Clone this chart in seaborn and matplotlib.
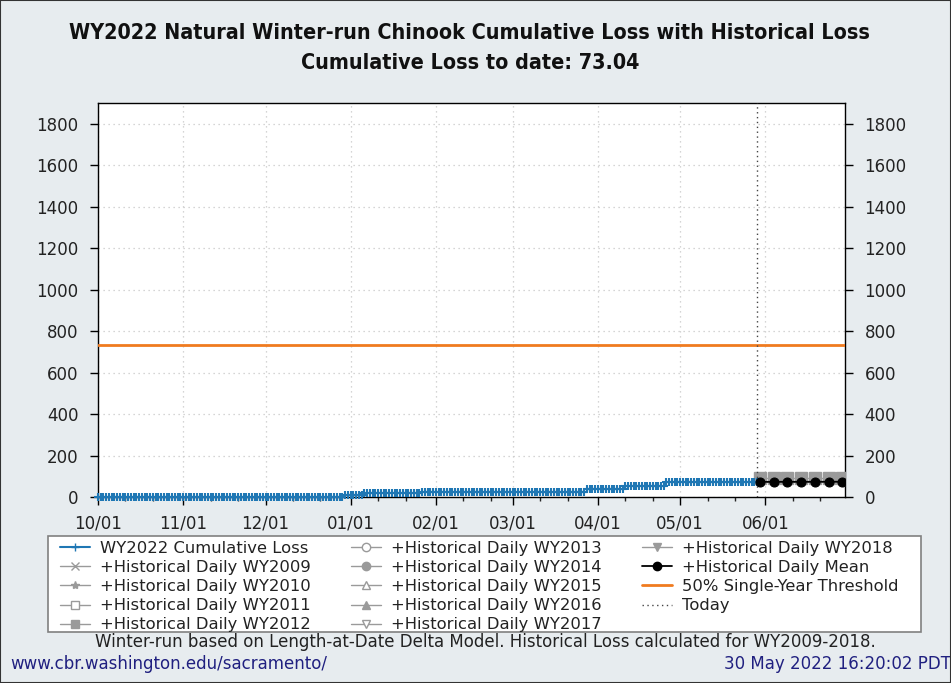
import matplotlib
matplotlib.use("Agg")
import matplotlib.pyplot as plt
import matplotlib.dates as mdates
import seaborn as sns
import pandas as pd
from matplotlib.patches import Rectangle

# ---------------- data ----------------
wy2022_change_dates = ["2021-10-01", "2021-11-24", "2021-12-30", "2022-01-06", "2022-01-16",
                       "2022-01-27", "2022-03-16", "2022-03-28", "2022-04-11", "2022-04-26",
                       "2022-05-09"]
wy2022_change_values = [0.3, 1.0, 10.0, 17.0, 20.0, 24.0, 26.0, 38.0, 54.0, 71.0, 73.04]
wy2022_last_date = "2022-05-29"

proj_dates = ["2022-05-30", "2022-06-04", "2022-06-09", "2022-06-14", "2022-06-19",
              "2022-06-24", "2022-06-29"]
hist_mean = [73.04, 73.1, 73.2, 73.3, 73.4, 73.5, 73.6]
hist_2012 = [90.0, 90.0, 90.0, 90.0, 90.0, 90.0, 90.0]
hist_other = [73.04, 73.2, 73.3, 73.4, 73.5, 73.6, 73.7]

hist_years = ["2009", "2010", "2011", "2012", "2013", "2014", "2015", "2016", "2017", "2018"]
hist_markers = ["x", "*", "s", "s", "o", "o", "^", "^", "v", "v"]
hist_filled = [True, True, False, True, False, True, False, True, False, True]

threshold = 733
today = "2022-05-29"
yticks = [0, 200, 400, 600, 800, 1000, 1200, 1400, 1600, 1800]
xtick_dates = ["2021-10-01", "2021-11-01", "2021-12-01", "2022-01-01", "2022-02-01",
               "2022-03-01", "2022-04-01", "2022-05-01", "2022-06-01"]

# --------------- build frames ---------------
days = pd.date_range("2021-10-01", wy2022_last_date, freq="D")
steps = pd.Series(wy2022_change_values, index=pd.to_datetime(wy2022_change_dates))
cum = steps.reindex(days).ffill()
df22 = pd.DataFrame({"date": days, "loss": cum.values})
pdates = pd.to_datetime(proj_dates)

# --------------- figure ---------------
sns.set_style("white")
plt.rcParams["font.family"] = ["DejaVu Sans"]
bg = "#e7ecef"
fig = plt.figure(figsize=(9.51, 6.83), dpi=100, facecolor=bg)
ax = fig.add_axes([98/951, 1-497/683, (845-98)/951, (497-103)/683])
ax.set_facecolor("white")

gray = "#9a9a9a"
blue = "#1f77b4"
sns.lineplot(data=df22, x="date", y="loss", ax=ax, color=blue, lw=1.5,
             drawstyle="steps-post", marker="+", markersize=5.5, markeredgewidth=1.5,
             markeredgecolor=blue, zorder=5, label="WY2022 Cumulative Loss", clip_on=False)

for yr, mk, filled in zip(hist_years, hist_markers, hist_filled):
    vals = hist_2012 if yr == "2012" else hist_other
    sns.lineplot(x=pdates, y=vals, ax=ax, color=gray, lw=1.0, marker=mk,
                 markersize=9 if yr == "2012" else 5, markeredgewidth=1.0,
                 markerfacecolor=gray if filled else "white",
                 markeredgecolor=gray, zorder=3,
                 label=f"+Historical Daily WY{yr}")

sns.lineplot(x=pdates, y=hist_mean, ax=ax, color="black", lw=1.3, marker="o",
             markersize=6.5, markerfacecolor="black", markeredgecolor="black",
             zorder=6, label="+Historical Daily Mean")

ax.axhline(threshold, color="#f07b1f", lw=2, zorder=4, label="50% Single-Year Threshold")
ax.axvline(pd.Timestamp(today), color="#444444", lw=1, ls=(0, (1, 2.5)), zorder=4, label="Today")

ax.set_xlim(pd.Timestamp("2021-10-01"), pd.Timestamp("2022-06-30"))
ax.set_ylim(0, 1900)
ax.set_yticks(yticks)
ax.set_xticks(pd.to_datetime(xtick_dates))
ax.xaxis.set_major_formatter(mdates.DateFormatter("%m/%d"))
ax.xaxis.set_minor_locator(mdates.DayLocator(bymonthday=[11, 21]))
ax.set_xlabel("")
ax.set_ylabel("")
ax.grid(True, which="major", color="#c8c8c8", ls=(0, (1, 3)), lw=0.9)
ax.tick_params(axis="both", which="major", direction="out", length=6, width=1,
               labelsize=12, colors="black", labelcolor="#222222")
ax.tick_params(axis="x", which="major", pad=6.5)
ax.tick_params(axis="y", which="major", pad=8)
ax.tick_params(axis="x", which="minor", direction="out", length=3, width=1)
ax.tick_params(axis="y", which="both", right=True, labelright=True, left=True)
ax.tick_params(axis="x", which="both", bottom=True, top=False)
for s in ax.spines.values():
    s.set_color("black")
    s.set_linewidth(1)
    s.set_visible(True)

# legend: frame drawn as a figure patch, entries placed on top
fig.patches.append(Rectangle((48/951, 1-632/683), (921-48)/951, (632-536)/683,
                             transform=fig.transFigure, facecolor="white",
                             edgecolor="#808080", lw=1.2, zorder=1))
h, l = ax.get_legend_handles_labels()
if ax.legend_:
    ax.legend_.remove()
leg = fig.legend(h, l, loc="upper left", bbox_to_anchor=(60/951, 1-541/683),
                 ncol=3, fontsize=11.8, frameon=False, borderaxespad=0, borderpad=0,
                 handlelength=1.83, handletextpad=0.61, labelspacing=0.25,
                 columnspacing=2.45)
leg.set_zorder(5)
for t in leg.get_texts():
    t.set_color("#222222")
for hd in leg.legend_handles:
    if hasattr(hd, "set_markersize") and hd.get_marker() not in (None, "None", ""):
        hd.set_markersize(6)
        hd.set_markeredgewidth(1.0)

tprops = dict(ha="center", va="center", fontsize=15.4, fontweight="bold",
              family=["DejaVu Sans"], fontstretch="condensed", color="#111111")
fig.text(0.494, 1-33/683, "WY2022 Natural Winter-run Chinook Cumulative Loss with Historical Loss", **tprops)
fig.text(0.494, 1-63/683, "Cumulative Loss to date: 73.04", **tprops)

fig.text(485/951, 1-642/683,
         "Winter-run based on Length-at-Date Delta Model. Historical Loss calculated for WY2009-2018.",
         ha="center", va="center", fontsize=12, color="#222222")
fig.text(10/951, 1-664/683, "www.cbr.washington.edu/sacramento/", ha="left", va="center",
         fontsize=12, color="#202080")
fig.text(1.0, 1-664/683, "30 May 2022 16:20:02 PDT", ha="right", va="center",
         fontsize=12, color="#202080")

fig.patches.append(Rectangle((0, 0), 1, 1, transform=fig.transFigure, fill=False,
                             edgecolor="#333333", lw=1.5, zorder=10))

fig.savefig("out.png", dpi=100, facecolor=bg)
